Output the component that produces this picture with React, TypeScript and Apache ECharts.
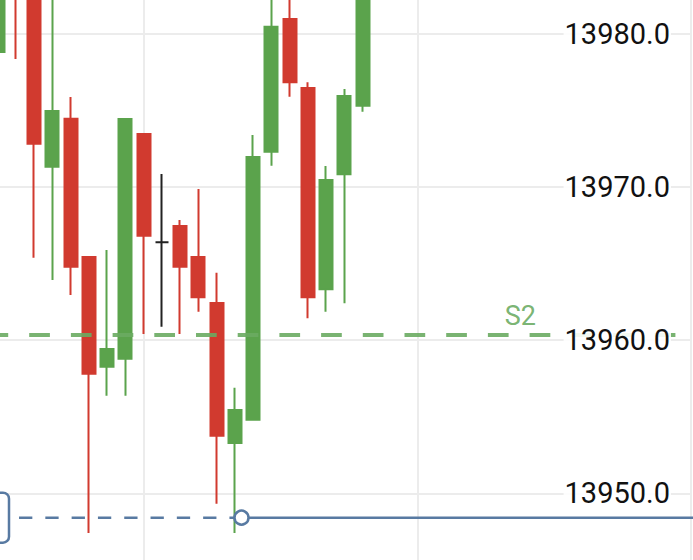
import React, { useEffect, useRef } from 'react';
import * as echarts from 'echarts';

// 39 one-minute slots; the first 21 carry candles, the rest is empty space on the right
const categories = [
  '10:00', '10:01', '10:02', '10:03', '10:04', '10:05', '10:06', '10:07', '10:08', '10:09',
  '10:10', '10:11', '10:12', '10:13', '10:14', '10:15', '10:16', '10:17', '10:18', '10:19',
  '10:20', '10:21', '10:22', '10:23', '10:24', '10:25', '10:26', '10:27', '10:28', '10:29',
  '10:30', '10:31', '10:32', '10:33', '10:34', '10:35', '10:36', '10:37', '10:38',
];

// [open, close, low, high]
const candles: number[][] = [
  [13978.82, 13984.0, 13975.49, 13985.0],
  [13987.0, 13983.0, 13978.37, 13988.0],
  [13985.5, 13972.83, 13965.39, 13986.5],
  [13971.33, 13974.97, 13963.93, 13984.5],
  [13974.47, 13964.8, 13962.95, 13975.89],
  [13965.43, 13957.81, 13947.41, 13965.43],
  [13958.27, 13959.43, 13956.37, 13965.89],
  [13958.79, 13974.45, 13956.37, 13974.45],
  [13973.47, 13966.83, 13960.4, 13973.47],
  [13966.39, 13966.39, 13960.88, 13970.86],
  [13967.46, 13964.8, 13960.4, 13967.85],
  [13965.43, 13962.8, 13961.86, 13969.88],
  [13962.43, 13953.76, 13949.32, 13964.41],
  [13953.29, 13955.44, 13947.41, 13956.9],
  [13954.81, 13971.97, 13954.81, 13973.4],
  [13972.31, 13980.48, 13971.4, 13984.5],
  [13980.98, 13976.85, 13975.9, 13984.0],
  [13976.47, 13962.8, 13961.43, 13976.85],
  [13963.32, 13970.46, 13961.86, 13971.38],
  [13970.84, 13975.95, 13962.41, 13976.41],
  [13975.32, 13984.0, 13974.92, 13985.0],
];

const Y_MIN = 13940;
const Y_MAX = 13990;
const Y_STEP = 10;

const S2_PRICE = 13960.38;
const S2_LABEL = 'S2';

const POSITION_PRICE = 13948.41;
const POSITION_DASH_START = 1.18;
const POSITION_MARK = 13.37;
const POSITION_END = 38.3;

const GREEN = '#5ba34c';
const RED = '#d13a2f';
const BLUE = '#587aa2';
const GRID = '#ececec';

export default function App() {
  const ref = useRef<HTMLDivElement>(null);

  useEffect(() => {
    if (!ref.current) return;
    const chart = echarts.init(ref.current, undefined, { renderer: 'svg' });

    const option: any = {
      animation: false,
      backgroundColor: '#ffffff',
      grid: {
        left: -2.5,
        right: 2,
        top: -119.1,
        bottom: -86.4,
        containLabel: false,
        outerBoundsMode: 'none',
      },
      xAxis: [
        {
          type: 'category',
          data: categories,
          boundaryGap: false,
          axisLine: { show: false },
          axisTick: { show: false },
          axisLabel: { show: false },
          splitLine: {
            show: true,
            interval: (i: number) => i % 15 === 8,
            lineStyle: { color: GRID, width: 2 },
          },
        },
        {
          type: 'value',
          min: 0,
          max: categories.length - 1,
          show: false,
        },
      ],
      yAxis: [
        {
          type: 'value',
          position: 'right',
          min: Y_MIN,
          max: Y_MAX,
          interval: Y_STEP,
          axisLine: { show: false },
          axisTick: { show: false },
          axisLabel: { show: false },
          splitLine: { show: true, lineStyle: { color: GRID, width: 2 } },
        },
        {
          type: 'value',
          position: 'right',
          min: Y_MIN,
          max: Y_MAX,
          interval: Y_STEP,
          z: 10,
          axisLine: { show: false },
          axisTick: { show: false },
          splitLine: { show: false },
          axisLabel: {
            show: true,
            inside: true,
            showMinLabel: false,
            showMaxLabel: false,
            margin: 20,
            fontSize: 29,
            fontFamily: 'Roboto',
            color: '#111111',
            backgroundColor: 'rgba(255,255,255,0.9)',
            padding: [0, 1],
            formatter: (v: number) => v.toFixed(1),
          },
        },
      ],
      series: [
        {
          type: 'candlestick',
          xAxisIndex: 0,
          yAxisIndex: 0,
          data: candles,
          barWidth: 13.5,
          itemStyle: {
            color: GREEN,
            color0: RED,
            borderColor: GREEN,
            borderColor0: RED,
            borderColorDoji: '#222222',
            borderWidth: 2,
          },
          markLine: {
            silent: true,
            symbol: ['none', 'none'],
            data: [
              {
                yAxis: S2_PRICE,
                lineStyle: {
                  color: '#6aab62',
                  width: 4,
                  type: [20.7, 21],
                  dashOffset: 9.9,
                  opacity: 0.9,
                },
                label: {
                  show: true,
                  formatter: S2_LABEL,
                  position: 'insideEndTop',
                  distance: [155, 5],
                  color: '#6aab62',
                  fontSize: 27,
                  fontFamily: 'Roboto',
                },
              },
            ],
          },
          z: 3,
        },
        {
          type: 'line',
          xAxisIndex: 1,
          yAxisIndex: 0,
          data: [
            [POSITION_DASH_START, POSITION_PRICE],
            [POSITION_MARK, POSITION_PRICE],
          ],
          symbol: 'none',
          lineStyle: { color: BLUE, width: 2.5, type: [13.3, 13] },
          silent: true,
          z: 5,
        },
        {
          type: 'line',
          xAxisIndex: 1,
          yAxisIndex: 0,
          data: [
            [POSITION_MARK, POSITION_PRICE],
            [POSITION_END, POSITION_PRICE],
          ],
          clip: false,
          symbol: 'none',
          lineStyle: { color: BLUE, width: 2.5 },
          silent: true,
          z: 5,
        },
        {
          type: 'scatter',
          xAxisIndex: 1,
          yAxisIndex: 0,
          data: [[POSITION_MARK, POSITION_PRICE]],
          symbol: 'circle',
          symbolSize: 14,
          itemStyle: { color: '#ffffff', borderColor: BLUE, borderWidth: 2.5, opacity: 1 },
          silent: true,
          z: 6,
        },
      ],
    };

    chart.setOption(option);

    const cy = chart.convertToPixel({ yAxisIndex: 0 } as any, POSITION_PRICE) as number;
    chart.setOption({
      graphic: [
        {
          type: 'rect',
          shape: { x: -60, y: cy - 25, width: 69, height: 50, r: 6 },
          style: { fill: '#ffffff', stroke: BLUE, lineWidth: 2.5 },
          z: 20,
          silent: true,
        },
      ],
    });

    return () => chart.dispose();
  }, []);

  return (
    <div
      ref={ref}
      style={{ position: 'fixed', left: 0, top: 0, width: 693, height: 560, background: '#fff' }}
    />
  );
}
